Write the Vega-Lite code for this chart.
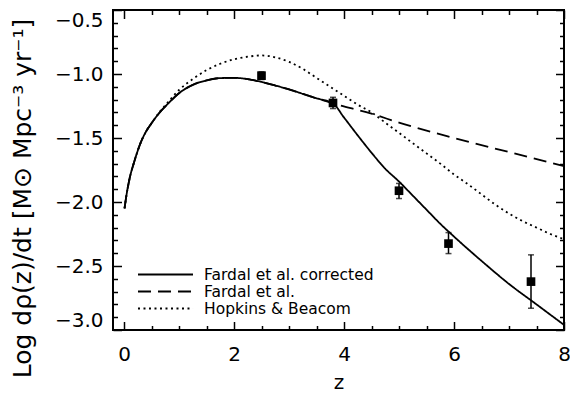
{
  "$schema": "https://vega.github.io/schema/vega-lite/v6.json",
  "autosize": {"type": "none"},
  "padding": {"left": 113, "top": 10, "right": 6, "bottom": 64},
  "width": 451,
  "height": 320,
  "background": "white",
  "config": {
    "font": "DejaVu Sans",
    "view": {"stroke": "black", "strokeWidth": 2},
    "axis": {
      "labelFont": "DejaVu Sans",
      "titleFont": "DejaVu Sans",
      "labelColor": "black",
      "titleColor": "black",
      "labelFontSize": 20,
      "titleFontSize": 20,
      "titleFontWeight": "normal",
      "domainOpacity": 0,
      "gridOpacity": 0,
      "ticks": true,
      "tickColor": "#000000",
      "tickOpacity": 1,
      "tickWidth": 1.5
    },
    "legend": {
      "labelFont": "DejaVu Sans",
      "labelFontSize": 15.5,
      "labelColor": "black"
    }
  },
  "datasets": {
    "curves": [
      {"z": 0.01, "logrho": -2.05, "model": "Fardal et al. corrected"},
      {"z": 0.04, "logrho": -1.96, "model": "Fardal et al. corrected"},
      {"z": 0.1, "logrho": -1.82, "model": "Fardal et al. corrected"},
      {"z": 0.19, "logrho": -1.68, "model": "Fardal et al. corrected"},
      {"z": 0.3, "logrho": -1.54, "model": "Fardal et al. corrected"},
      {"z": 0.4, "logrho": -1.45, "model": "Fardal et al. corrected"},
      {"z": 0.5, "logrho": -1.385, "model": "Fardal et al. corrected"},
      {"z": 0.65, "logrho": -1.3, "model": "Fardal et al. corrected"},
      {"z": 0.8, "logrho": -1.232, "model": "Fardal et al. corrected"},
      {"z": 1.0, "logrho": -1.15, "model": "Fardal et al. corrected"},
      {"z": 1.25, "logrho": -1.085, "model": "Fardal et al. corrected"},
      {"z": 1.5, "logrho": -1.05, "model": "Fardal et al. corrected"},
      {"z": 1.75, "logrho": -1.032, "model": "Fardal et al. corrected"},
      {"z": 2.0, "logrho": -1.03, "model": "Fardal et al. corrected"},
      {"z": 2.25, "logrho": -1.04, "model": "Fardal et al. corrected"},
      {"z": 2.5, "logrho": -1.062, "model": "Fardal et al. corrected"},
      {"z": 2.75, "logrho": -1.09, "model": "Fardal et al. corrected"},
      {"z": 3.0, "logrho": -1.12, "model": "Fardal et al. corrected"},
      {"z": 3.25, "logrho": -1.155, "model": "Fardal et al. corrected"},
      {"z": 3.5, "logrho": -1.19, "model": "Fardal et al. corrected"},
      {"z": 3.8, "logrho": -1.23, "model": "Fardal et al. corrected"},
      {"z": 4.0, "logrho": -1.34, "model": "Fardal et al. corrected"},
      {"z": 4.25, "logrho": -1.48, "model": "Fardal et al. corrected"},
      {"z": 4.5, "logrho": -1.615, "model": "Fardal et al. corrected"},
      {"z": 4.75, "logrho": -1.74, "model": "Fardal et al. corrected"},
      {"z": 5.0, "logrho": -1.84, "model": "Fardal et al. corrected"},
      {"z": 5.25, "logrho": -1.95, "model": "Fardal et al. corrected"},
      {"z": 5.5, "logrho": -2.06, "model": "Fardal et al. corrected"},
      {"z": 5.75, "logrho": -2.17, "model": "Fardal et al. corrected"},
      {"z": 6.0, "logrho": -2.27, "model": "Fardal et al. corrected"},
      {"z": 6.5, "logrho": -2.46, "model": "Fardal et al. corrected"},
      {"z": 7.0, "logrho": -2.64, "model": "Fardal et al. corrected"},
      {"z": 7.5, "logrho": -2.8, "model": "Fardal et al. corrected"},
      {"z": 8.0, "logrho": -2.96, "model": "Fardal et al. corrected"},

      {"z": 0.01, "logrho": -2.05, "model": "Fardal et al."},
      {"z": 0.04, "logrho": -1.96, "model": "Fardal et al."},
      {"z": 0.1, "logrho": -1.82, "model": "Fardal et al."},
      {"z": 0.19, "logrho": -1.68, "model": "Fardal et al."},
      {"z": 0.3, "logrho": -1.54, "model": "Fardal et al."},
      {"z": 0.4, "logrho": -1.45, "model": "Fardal et al."},
      {"z": 0.5, "logrho": -1.385, "model": "Fardal et al."},
      {"z": 0.65, "logrho": -1.3, "model": "Fardal et al."},
      {"z": 0.8, "logrho": -1.232, "model": "Fardal et al."},
      {"z": 1.0, "logrho": -1.15, "model": "Fardal et al."},
      {"z": 1.25, "logrho": -1.085, "model": "Fardal et al."},
      {"z": 1.5, "logrho": -1.05, "model": "Fardal et al."},
      {"z": 1.75, "logrho": -1.032, "model": "Fardal et al."},
      {"z": 2.0, "logrho": -1.03, "model": "Fardal et al."},
      {"z": 2.25, "logrho": -1.04, "model": "Fardal et al."},
      {"z": 2.5, "logrho": -1.062, "model": "Fardal et al."},
      {"z": 2.75, "logrho": -1.09, "model": "Fardal et al."},
      {"z": 3.0, "logrho": -1.12, "model": "Fardal et al."},
      {"z": 3.25, "logrho": -1.155, "model": "Fardal et al."},
      {"z": 3.5, "logrho": -1.19, "model": "Fardal et al."},
      {"z": 3.8, "logrho": -1.23, "model": "Fardal et al."},
      {"z": 4.5, "logrho": -1.31, "model": "Fardal et al."},
      {"z": 5.0, "logrho": -1.38, "model": "Fardal et al."},
      {"z": 6.0, "logrho": -1.5, "model": "Fardal et al."},
      {"z": 7.0, "logrho": -1.61, "model": "Fardal et al."},
      {"z": 8.0, "logrho": -1.72, "model": "Fardal et al."},

      {"z": 0.01, "logrho": -2.05, "model": "Hopkins & Beacom"},
      {"z": 0.04, "logrho": -1.96, "model": "Hopkins & Beacom"},
      {"z": 0.1, "logrho": -1.82, "model": "Hopkins & Beacom"},
      {"z": 0.19, "logrho": -1.68, "model": "Hopkins & Beacom"},
      {"z": 0.3, "logrho": -1.54, "model": "Hopkins & Beacom"},
      {"z": 0.4, "logrho": -1.45, "model": "Hopkins & Beacom"},
      {"z": 0.5, "logrho": -1.385, "model": "Hopkins & Beacom"},
      {"z": 0.65, "logrho": -1.295, "model": "Hopkins & Beacom"},
      {"z": 0.8, "logrho": -1.22, "model": "Hopkins & Beacom"},
      {"z": 1.0, "logrho": -1.125, "model": "Hopkins & Beacom"},
      {"z": 1.25, "logrho": -1.04, "model": "Hopkins & Beacom"},
      {"z": 1.5, "logrho": -0.97, "model": "Hopkins & Beacom"},
      {"z": 1.75, "logrho": -0.92, "model": "Hopkins & Beacom"},
      {"z": 2.0, "logrho": -0.885, "model": "Hopkins & Beacom"},
      {"z": 2.25, "logrho": -0.865, "model": "Hopkins & Beacom"},
      {"z": 2.5, "logrho": -0.855, "model": "Hopkins & Beacom"},
      {"z": 2.75, "logrho": -0.87, "model": "Hopkins & Beacom"},
      {"z": 3.0, "logrho": -0.905, "model": "Hopkins & Beacom"},
      {"z": 3.25, "logrho": -0.96, "model": "Hopkins & Beacom"},
      {"z": 3.5, "logrho": -1.03, "model": "Hopkins & Beacom"},
      {"z": 3.75, "logrho": -1.1, "model": "Hopkins & Beacom"},
      {"z": 4.0, "logrho": -1.17, "model": "Hopkins & Beacom"},
      {"z": 4.25, "logrho": -1.24, "model": "Hopkins & Beacom"},
      {"z": 4.5, "logrho": -1.3, "model": "Hopkins & Beacom"},
      {"z": 4.75, "logrho": -1.38, "model": "Hopkins & Beacom"},
      {"z": 5.0, "logrho": -1.46, "model": "Hopkins & Beacom"},
      {"z": 5.25, "logrho": -1.54, "model": "Hopkins & Beacom"},
      {"z": 5.5, "logrho": -1.62, "model": "Hopkins & Beacom"},
      {"z": 5.75, "logrho": -1.7, "model": "Hopkins & Beacom"},
      {"z": 6.0, "logrho": -1.785, "model": "Hopkins & Beacom"},
      {"z": 6.25, "logrho": -1.86, "model": "Hopkins & Beacom"},
      {"z": 6.5, "logrho": -1.94, "model": "Hopkins & Beacom"},
      {"z": 6.75, "logrho": -2.02, "model": "Hopkins & Beacom"},
      {"z": 7.0, "logrho": -2.09, "model": "Hopkins & Beacom"},
      {"z": 7.25, "logrho": -2.15, "model": "Hopkins & Beacom"},
      {"z": 7.5, "logrho": -2.2, "model": "Hopkins & Beacom"},
      {"z": 7.75, "logrho": -2.25, "model": "Hopkins & Beacom"},
      {"z": 8.0, "logrho": -2.29, "model": "Hopkins & Beacom"}
    ],
    "measurements": [
      {"z": 2.5, "logrho": -1.013, "lo": -1.043, "hi": -0.983},
      {"z": 3.8, "logrho": -1.226, "lo": -1.27, "hi": -1.182},
      {"z": 5.0, "logrho": -1.912, "lo": -1.973, "hi": -1.855},
      {"z": 5.9, "logrho": -2.325, "lo": -2.403, "hi": -2.239},
      {"z": 7.4, "logrho": -2.622, "lo": -2.83, "hi": -2.413}
    ]
  },
  "layer": [
    {
      "data": {"name": "curves"},
      "mark": {"type": "line", "color": "black", "strokeWidth": 1.8, "interpolate": "monotone"},
      "encoding": {
        "x": {
          "field": "z", "type": "quantitative",
          "scale": {"domain": [-0.2, 8], "nice": false, "zero": false},
          "axis": {
            "orient": "bottom", "values": [0, 2, 4, 6, 8], "format": "d",
            "tickSize": 8.5, "offset": -8.5,
            "labelPadding": 14, "labelFlush": false,
            "title": "z", "titleX": 225.5, "titleY": 60.5, "titleBaseline": "middle", "titleAlign": "center"
          }
        },
        "y": {
          "field": "logrho", "type": "quantitative",
          "scale": {"domain": [-3, -0.5], "nice": false, "zero": false},
          "axis": {
            "orient": "left", "values": [-3, -2.5, -2, -1.5, -1, -0.5], "format": ".1f",
            "tickSize": 8.5, "offset": -8.5,
            "labelPadding": 10, "labelFlush": true, "labelFlushOffset": 0,
            "title": "Log  dρ(z)/dt  [M⊙ Mpc⁻³ yr⁻¹]", "titleFontSize": 25,
            "titleX": -99, "titleY": 188, "titleAngle": -90, "titleBaseline": "middle", "titleAlign": "center"
          }
        },
        "strokeDash": {
          "field": "model", "type": "nominal",
          "scale": {
            "domain": ["Fardal et al. corrected", "Fardal et al.", "Hopkins & Beacom"],
            "range": [[1, 0], [13, 7], [2, 3.5]]
          },
          "legend": {
            "title": null, "orient": "none", "legendX": 44.5, "legendY": 256.5, "padding": 0,
            "symbolType": "M-3.93,0H3.93", "symbolSize": 196, "symbolStrokeWidth": 1.8,
            "symbolStrokeColor": "black", "symbolFillColor": "transparent",
            "labelOffset": 30.5, "rowPadding": 0, "labelLimit": 400
          }
        }
      }
    },
    {
      "data": {"name": "measurements"},
      "mark": {"type": "rule", "color": "black", "strokeWidth": 1.5},
      "encoding": {
        "x": {
          "field": "z", "type": "quantitative",
          "scale": {"domain": [-0.2, 8], "nice": false, "zero": false},
          "axis": {"orient": "bottom", "values": [0.5, 1, 1.5, 2.5, 3, 3.5, 4.5, 5, 5.5, 6.5, 7, 7.5], "labels": false, "tickSize": 4.5, "offset": -4.5, "title": null}
        },
        "y": {
          "field": "lo", "type": "quantitative",
          "scale": {"domain": [-3, -0.5], "nice": false, "zero": false},
          "axis": {"orient": "left", "values": [-2.9, -2.8, -2.7, -2.6, -2.4, -2.3, -2.2, -2.1, -1.9, -1.8, -1.7, -1.6, -1.4, -1.3, -1.2, -1.1, -0.9, -0.8, -0.7, -0.6], "labels": false, "tickSize": 4.5, "offset": -4.5, "title": null}
        },
        "y2": {"field": "hi"}
      }
    },
    {
      "data": {"name": "measurements"},
      "mark": {"type": "point", "shape": "square", "filled": true, "opacity": 1, "color": "black", "size": 75},
      "encoding": {
        "x": {
          "field": "z", "type": "quantitative",
          "scale": {"domain": [-0.2, 8], "nice": false, "zero": false},
          "axis": {"orient": "top", "values": [0, 2, 4, 6, 8], "labels": false, "tickSize": 8.5, "offset": -8.5, "title": null}
        },
        "y": {
          "field": "logrho", "type": "quantitative",
          "scale": {"domain": [-3, -0.5], "nice": false, "zero": false},
          "axis": {"orient": "right", "values": [-3, -2.5, -2, -1.5, -1, -0.5], "labels": false, "tickSize": 8.5, "offset": -8.5, "title": null}
        }
      }
    },
    {
      "data": {"name": "measurements"},
      "mark": {"type": "tick", "orient": "horizontal", "color": "black", "size": 6, "thickness": 1.5},
      "encoding": {
        "x": {
          "field": "z", "type": "quantitative",
          "scale": {"domain": [-0.2, 8], "nice": false, "zero": false},
          "axis": {"orient": "top", "values": [0.5, 1, 1.5, 2.5, 3, 3.5, 4.5, 5, 5.5, 6.5, 7, 7.5], "labels": false, "tickSize": 4.5, "offset": -4.5, "title": null}
        },
        "y": {
          "field": "lo", "type": "quantitative",
          "scale": {"domain": [-3, -0.5], "nice": false, "zero": false},
          "axis": {"orient": "right", "values": [-2.9, -2.8, -2.7, -2.6, -2.4, -2.3, -2.2, -2.1, -1.9, -1.8, -1.7, -1.6, -1.4, -1.3, -1.2, -1.1, -0.9, -0.8, -0.7, -0.6], "labels": false, "tickSize": 4.5, "offset": -4.5, "title": null}
        }
      }
    },
    {
      "data": {"name": "measurements"},
      "mark": {"type": "tick", "orient": "horizontal", "color": "black", "size": 6, "thickness": 1.5},
      "encoding": {
        "x": {"field": "z", "type": "quantitative", "scale": {"domain": [-0.2, 8], "nice": false, "zero": false}, "axis": null},
        "y": {"field": "hi", "type": "quantitative", "scale": {"domain": [-3, -0.5], "nice": false, "zero": false}, "axis": null}
      }
    }
  ],
  "resolve": {"scale": {"x": "independent", "y": "independent"}}
}
